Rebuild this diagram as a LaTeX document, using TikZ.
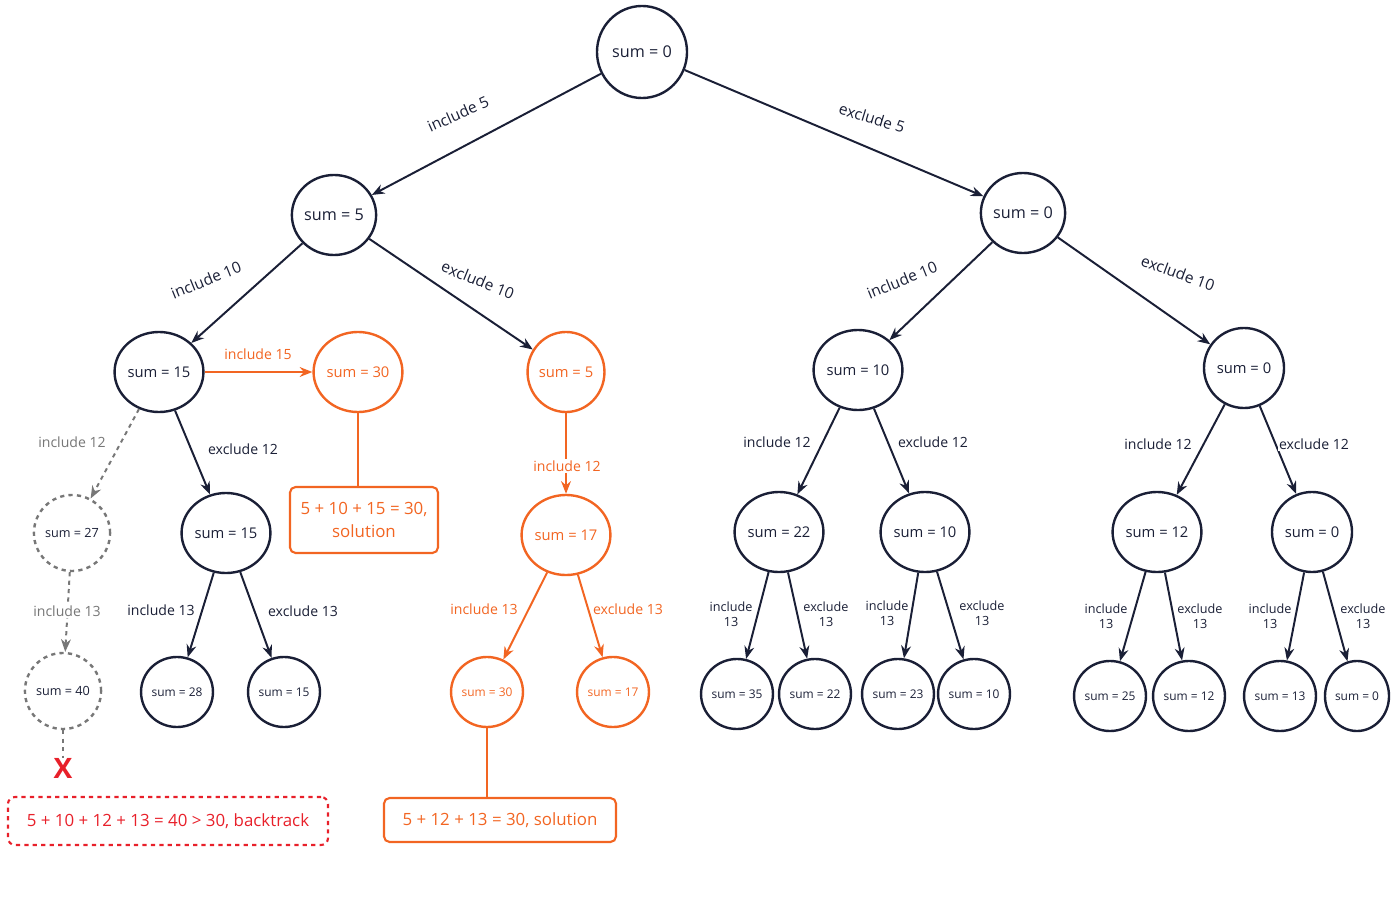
\documentclass[tikz,border=0pt]{standalone}
\usepackage{fontspec}
\setmainfont{Open Sans}
\usetikzlibrary{shapes.geometric,arrows.meta}
\definecolor{navy}{HTML}{1A1F36}
\definecolor{orng}{HTML}{F26522}
\definecolor{gry}{HTML}{777777}
\definecolor{redc}{HTML}{E8202A}
\begin{document}
\begin{tikzpicture}[x=0.025cm,y=-0.025cm,
  base/.style={ellipse,draw,line width=1.7pt,inner sep=0pt,font=\fontsize{10.5}{12}\selectfont},
  cnode/.style={base,draw=navy,text=navy,minimum width=2cm,minimum height=2cm},
  onode/.style={base,draw=orng,text=orng,minimum width=1.85cm,minimum height=2cm},
  gnode/.style={base,draw=gry,text=navy,dashed,minimum width=1.75cm,minimum height=1.9cm,font=\fontsize{9}{11}\selectfont},
  leaf/.style={base,draw=navy,text=navy,minimum width=1.6cm,minimum height=1.75cm,font=\fontsize{8.5}{10}\selectfont},
  oleaf/.style={leaf,draw=orng,text=orng},
  arr/.style={-{Stealth[length=9pt,width=7pt]},line width=1.4pt,draw=navy},
  oarr/.style={arr,draw=orng},
  garr/.style={arr,draw=gry,dashed},
  lab/.style={text=navy,font=\fontsize{10}{12}\selectfont,inner sep=1pt,fill=white},
  rlab/.style={lab,font=\fontsize{11}{13}\selectfont,fill=none},
  olab/.style={lab,text=orng},
  glab/.style={lab,text=gry},
  slab/.style={lab,font=\fontsize{9}{11}\selectfont,align=center,fill=none}]
\useasboundingbox (0,0) rectangle (1400,900);
\node[cnode,minimum width=2.25cm,minimum height=2.3cm,font=\fontsize{11.5}{13}\selectfont] (root) at (642,52) {sum = 0};
\node[cnode,font=\fontsize{11.5}{13}\selectfont] (A) at (334,215) {sum = 5};
\node[cnode,font=\fontsize{11.5}{13}\selectfont] (B) at (1023,213) {sum = 0};
\node[cnode] (C) at (159,372) {sum = 15};
\node[onode] (D) at (358,372) {sum = 30};
\node[onode] (E) at (566,372) {sum = 5};
\node[cnode] (F) at (858,370) {sum = 10};
\node[cnode] (G) at (1244,368) {sum = 0};
\node[gnode] (H) at (72,533) {sum = 27};
\node[cnode] (I) at (226,533) {sum = 15};
\node[gnode] (J) at (63,691) {sum = 40};
\node[text=redc,font=\bfseries\fontsize{20}{20}\selectfont,inner sep=0pt] (X) at (63,768) {X};
\node[draw=redc,dashed,line width=1.5pt,rounded corners=5pt,text=redc,minimum width=8cm,minimum height=1.2cm,font=\fontsize{12}{14}\selectfont] (bt) at (168,821) {5 + 10 + 12 + 13 = 40 > 30, backtrack};
\node[leaf] (K) at (177,692) {sum = 28};
\node[leaf] (L) at (284,692) {sum = 15};
\node[draw=orng,line width=1.5pt,rounded corners=4pt,text=orng,minimum width=3.7cm,minimum height=1.65cm,align=center,font=\fontsize{12}{16}\selectfont] (s1) at (364,520) {5 + 10 + 15 = 30,\\ solution};
\node[onode] (M) at (566,535) {sum = 17};
\node[oleaf] (N) at (487,692) {sum = 30};
\node[oleaf] (O) at (613,692) {sum = 17};
\node[draw=orng,line width=1.5pt,rounded corners=4pt,text=orng,minimum width=5.8cm,minimum height=1.1cm,font=\fontsize{12}{14}\selectfont] (s2) at (500,820) {5 + 12 + 13 = 30, solution};
\node[cnode] (P) at (779,532) {sum = 22};
\node[cnode] (Q) at (925,532) {sum = 10};
\node[cnode] (R) at (1157,532) {sum = 12};
\node[cnode] (S) at (1312,532) {sum = 0};
\node[leaf] (P1) at (737,694) {sum = 35};
\node[leaf] (P2) at (815,694) {sum = 22};
\node[leaf] (Q1) at (898,694) {sum = 23};
\node[leaf] (Q2) at (974,694) {sum = 10};
\node[leaf] (R1) at (1110,696) {sum = 25};
\node[leaf] (R2) at (1189,696) {sum = 12};
\node[leaf] (S1) at (1280,696) {sum = 13};
\node[leaf] (S2) at (1357,696) {sum = 0};
% edges
\draw[arr] (root) -- (A); \draw[arr] (root) -- (B);
\draw[arr] (A) -- (C); \draw[arr] (A) -- (E);
\draw[arr] (B) -- (F); \draw[arr] (B) -- (G);
\draw[oarr] (C) -- (D);
\draw[garr] (C) -- (H); \draw[arr] (C) -- (I);
\draw[garr] (H) -- (J);
\draw[gry,dashed,line width=1.4pt] (J) -- (X);
\draw[arr] (I) -- (K); \draw[arr] (I) -- (L);
\draw[orng,line width=1.4pt] (D.south) -- (D.south |- s1.north);
\draw[oarr] (E) -- (M);
\draw[oarr] (M) -- (N); \draw[oarr] (M) -- (O);
\draw[orng,line width=1.4pt] (N.south) -- (N.south |- s2.north);
\draw[arr] (F) -- (P); \draw[arr] (F) -- (Q);
\draw[arr] (G) -- (R); \draw[arr] (G) -- (S);
\draw[arr] (P) -- (P1); \draw[arr] (P) -- (P2);
\draw[arr] (Q) -- (Q1); \draw[arr] (Q) -- (Q2);
\draw[arr] (R) -- (R1); \draw[arr] (R) -- (R2);
\draw[arr] (S) -- (S1); \draw[arr] (S) -- (S2);
% labels
\node[rlab,rotate=24] (l1) at (458,114) {include 5};
\node[rlab,rotate=-17] (l2) at (872,118) {exclude 5};
\node[rlab,rotate=22] (l3) at (206,280) {include 10};
\node[rlab,rotate=-22] (l4) at (478,280) {exclude 10};
\node[rlab,rotate=22] (l5) at (902,280) {include 10};
\node[rlab,rotate=-20] (l6) at (1178,273) {exclude 10};
\node[olab] (l7) at (258,354) {include 15};
\node[glab] (l8) at (72,442) {include 12};
\node[lab] (l9) at (243,449) {exclude 12};
\node[olab] (l10) at (567,466) {include 12};
\node[glab] (l11) at (67,611) {include 13};
\node[lab] (l12) at (161,610) {include 13};
\node[lab] (l13) at (303,611) {exclude 13};
\node[olab,fill=none] (l14) at (484,609) {include 13};
\node[olab,fill=none] (l15) at (628,609) {exclude 13};
\node[lab] (l16) at (777,442) {include 12};
\node[lab] (l17) at (933,442) {exclude 12};
\node[lab] (l18) at (1158,444) {include 12};
\node[lab] (l19) at (1314,444) {exclude 12};
\node[slab] (m1) at (731,614) {include\\13};
\node[slab] (m2) at (826,614) {exclude\\13};
\node[slab] (m3) at (887,613) {include\\13};
\node[slab] (m4) at (982,613) {exclude\\13};
\node[slab] (m5) at (1106,616) {include\\13};
\node[slab] (m6) at (1200,616) {exclude\\13};
\node[slab] (m7) at (1270,616) {include\\13};
\node[slab] (m8) at (1363,616) {exclude\\13};
\end{tikzpicture}
\end{document}
